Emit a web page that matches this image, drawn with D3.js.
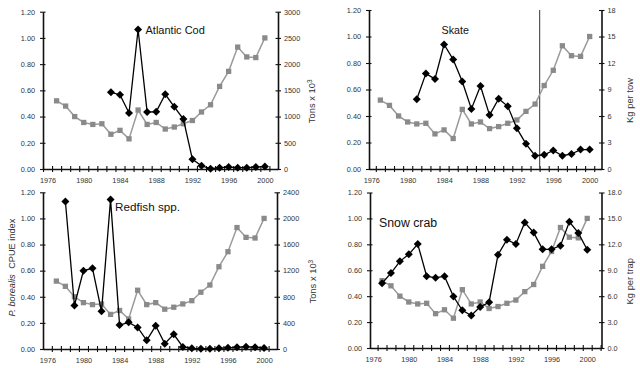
<!DOCTYPE html>
<html>
<head>
<meta charset="utf-8">
<script src="https://cdn.jsdelivr.net/npm/d3@7"></script>
<style>
  body { margin: 0; background: #fff; }
  svg { display: block; font-family: Arial, "Liberation Sans", sans-serif; }
</style>
</head>
<body>
<svg id="chart" width="640" height="368"></svg>
<script>
// shrimp (P. borealis) CPUE index - the grey series, same in all four panels
const shrimpYears = [1977, 1978, 1979, 1980, 1981, 1982, 1983, 1984, 1985, 1986, 1987, 1988,
  1989, 1990, 1991, 1992, 1993, 1994, 1995, 1996, 1997, 1998, 1999, 2000];
const shrimpIndex = [0.52, 0.48, 0.40, 0.355, 0.34, 0.345, 0.265, 0.295, 0.23, 0.45, 0.34, 0.355,
  0.305, 0.32, 0.345, 0.37, 0.435, 0.49, 0.63, 0.745, 0.93, 0.855, 0.85, 1.00];

// predators, plotted on the right axis
const codYears = [1983, 1984, 1985, 1986, 1987, 1988, 1989, 1990, 1991, 1992, 1993, 1994,
  1995, 1996, 1997, 1998, 1999, 2000];
const codTons = [1462, 1417, 1067, 2660, 1087, 1092, 1425, 1187, 952, 185, 62, 5,
  25, 36, 25, 25, 36, 50];

const skateYears = [1981, 1982, 1983, 1984, 1985, 1986, 1987, 1988, 1989, 1990, 1991, 1992,
  1993, 1994, 1995, 1996, 1997, 1998, 1999, 2000];
const skateKg = [7.9, 10.8, 10.2, 14.1, 12.4, 9.9, 6.8, 9.4, 6.1, 7.95, 7.1, 4.6,
  2.85, 1.5, 1.6, 2.1, 1.5, 1.7, 2.2, 2.2];

const redfishYears = [1978, 1979, 1980, 1981, 1982, 1983, 1984, 1985, 1986, 1987, 1988, 1989,
  1990, 1991, 1992, 1993, 1994, 1995, 1996, 1997, 1998, 1999, 2000];
const redfishTons = [2260, 666, 1200, 1235, 577, 2288, 367, 408, 330, 133, 355, 82,
  225, 31, 10, 5, 5, 10, 20, 26, 36, 26, 15];

const crabYears = [1977, 1978, 1979, 1980, 1981, 1982, 1983, 1984, 1985, 1986, 1987, 1988,
  1989, 1990, 1991, 1992, 1993, 1994, 1995, 1996, 1997, 1998, 1999, 2000];
const crabKg = [7.5, 8.67, 10.03, 10.84, 12.04, 8.32, 8.13, 8.32, 5.96, 4.37, 3.76, 4.76,
  5.3, 10.8, 12.54, 12.04, 14.52, 13.36, 11.42, 11.42, 11.85, 14.6, 13.32, 11.38];

// tick labels
const yearLabels = [1976, 1980, 1984, 1988, 1992, 1996, 2000];
const leftTicks = [0, 0.2, 0.4, 0.6, 0.8, 1.0, 1.2];
const codTicks = [0, 500, 1000, 1500, 2000, 2500, 3000];
const skateTicks = [0, 3, 6, 9, 12, 15, 18];
const redfishTicks = [0, 400, 800, 1200, 1600, 2000, 2400];
const crabTicks = [0, 3, 6, 9, 12, 15, 18];

const GREY_LINE = "#9a9a9a";
const GREY_MARK = "#8a8a8a";
const TEXT = "#333";

const svg = d3.select("#chart");

const panels = [
  { years: codYears, values: codTons, rightTicks: codTicks, rightFmt: d3.format("d"),
    title: "Atlantic Cod", titleX: 145.5, titleY: 34, titleSize: 11,
    unit: "tons", unitX: 312, left: 43, right: 278, top: 11.7, bottom: 169, xDomain: [1975.5, 2001.45] },
  { years: skateYears, values: skateKg, rightTicks: skateTicks, rightFmt: d3.format("d"),
    title: "Skate", titleX: 441.5, titleY: 34, titleSize: 10.7,
    unit: "Kg per tow", unitX: 630, left: 369, right: 601.5, top: 10, bottom: 169, xDomain: [1975.75, 2001.3],
    cutoff: 1994.5 },
  { years: redfishYears, values: redfishTons, rightTicks: redfishTicks, rightFmt: d3.format("d"),
    title: "Redfish spp.", titleX: 115, titleY: 210.5, titleSize: 11.7,
    unit: "tons", unitX: 313, left: 43, right: 277, top: 192.3, bottom: 349, xDomain: [1975.52, 2001.43],
    leftLabel: true },
  { years: crabYears, values: crabKg, rightTicks: crabTicks, rightFmt: d3.format(".1f"),
    title: "Snow crab", titleX: 379, titleY: 226.8, titleSize: 12.3,
    unit: "Kg per trap", unitX: 630, left: 370, right: 601.5, top: 192.5, bottom: 348, xDomain: [1975.65, 2001.6] }
];

panels.forEach(p => {
  const g = svg.append("g");
  const x = d3.scaleLinear().domain(p.xDomain).range([p.left, p.right]);
  const yL = d3.scaleLinear().domain([0, 1.2]).range([p.bottom, p.top]);
  const yR = d3.scaleLinear().domain([0, d3.max(p.rightTicks)]).range([p.bottom, p.top]);

  // category boundaries -> tick marks
  const bounds = d3.range(Math.ceil(p.xDomain[0] - 0.5) + 0.5, p.xDomain[1], 1);

  const styleAxis = sel => {
    sel.select(".domain").attr("stroke", "#111").attr("stroke-width", 1.6);
    sel.selectAll(".tick line").attr("stroke", "#111").attr("stroke-width", 1.1);
    sel.selectAll("text").attr("fill", TEXT).attr("font-size", 7.3)
      .attr("font-family", "Arial, 'Liberation Sans', sans-serif");
  };

  // x axis: line + crossing ticks
  g.append("g")
    .attr("transform", `translate(0,${p.bottom})`)
    .call(d3.axisBottom(x).tickValues(bounds).tickFormat("").tickSize(3).tickSizeOuter(0))
    .call(styleAxis)
    .call(a => a.selectAll(".tick line").attr("y1", -3));

  // year labels
  g.append("g")
    .attr("transform", `translate(0,${p.bottom})`)
    .call(d3.axisBottom(x).tickValues(yearLabels).tickFormat(d3.format("d")).tickSize(0).tickPadding(8.5))
    .call(styleAxis)
    .call(a => a.select(".domain").remove());

  // left axis
  g.append("g")
    .attr("transform", `translate(${p.left},0)`)
    .call(d3.axisLeft(yL).tickValues(leftTicks).tickFormat(d3.format(".2f")).tickSize(3).tickPadding(5).tickSizeOuter(0))
    .call(styleAxis)
    .call(a => a.selectAll(".tick line").attr("x1", 2.5));

  // right axis
  g.append("g")
    .attr("transform", `translate(${p.right},0)`)
    .call(d3.axisRight(yR).tickValues(p.rightTicks).tickFormat(p.rightFmt).tickSize(3).tickPadding(3).tickSizeOuter(0))
    .call(styleAxis)
    .call(a => a.selectAll(".tick line").attr("x1", -2.5));

  if (p.cutoff) {
    g.append("line")
      .attr("x1", x(p.cutoff)).attr("x2", x(p.cutoff))
      .attr("y1", p.top).attr("y2", p.bottom)
      .attr("stroke", "#555").attr("stroke-width", 1.2);
  }

  // grey shrimp series
  const shrimp = shrimpYears.map((yr, i) => ({ year: yr, v: shrimpIndex[i] }));
  g.append("path")
    .datum(shrimp)
    .attr("fill", "none")
    .attr("stroke", GREY_LINE)
    .attr("stroke-width", 1.5)
    .attr("d", d3.line().x(d => x(d.year)).y(d => yL(d.v)));
  g.append("g").selectAll("path")
    .data(shrimp)
    .join("path")
    .attr("transform", d => `translate(${x(d.year)},${yL(d.v)})`)
    .attr("d", d3.symbol(d3.symbolSquare, 28))
    .attr("fill", GREY_MARK);

  // black predator series
  const pred = p.years.map((yr, i) => ({ year: yr, v: p.values[i] }));
  g.append("path")
    .datum(pred)
    .attr("fill", "none")
    .attr("stroke", "#000")
    .attr("stroke-width", 1.3)
    .attr("d", d3.line().x(d => x(d.year)).y(d => yR(d.v)));
  g.append("g").selectAll("path")
    .data(pred)
    .join("path")
    .attr("transform", d => `translate(${x(d.year)},${yR(d.v)}) rotate(45)`)
    .attr("d", d3.symbol(d3.symbolSquare, 32))
    .attr("fill", "#000");

  // title
  g.append("text")
    .attr("x", p.titleX).attr("y", p.titleY)
    .attr("font-size", p.titleSize)
    .attr("fill", "#111")
    .text(p.title);

  // right axis label
  const cy = (p.top + p.bottom) / 2 + 11;
  const ul = g.append("text")
    .attr("transform", `translate(${p.unitX},${cy}) rotate(-90)`)
    .attr("text-anchor", "middle")
    .attr("dy", "0.35em")
    .attr("font-size", 9.4)
    .attr("fill", TEXT);
  if (p.unit === "tons") {
    ul.append("tspan").text("Tons x 10");
    ul.append("tspan").attr("dy", "-0.45em").attr("font-size", 6.5).text("3");
  } else {
    ul.text(p.unit);
  }

  if (p.leftLabel) {
    const ll = g.append("text")
      .attr("transform", `translate(12,${(p.top + p.bottom) / 2 - 3}) rotate(-90)`)
      .attr("text-anchor", "middle")
      .attr("dy", "0.35em")
      .attr("font-size", 9.2)
      .attr("fill", TEXT)
      .attr("xml:space", "preserve");
    ll.append("tspan").attr("font-style", "italic").text("P. borealis");
    ll.append("tspan").attr("dx", 3).text(" CPUE index");
  }
});
</script>
</body>
</html>
